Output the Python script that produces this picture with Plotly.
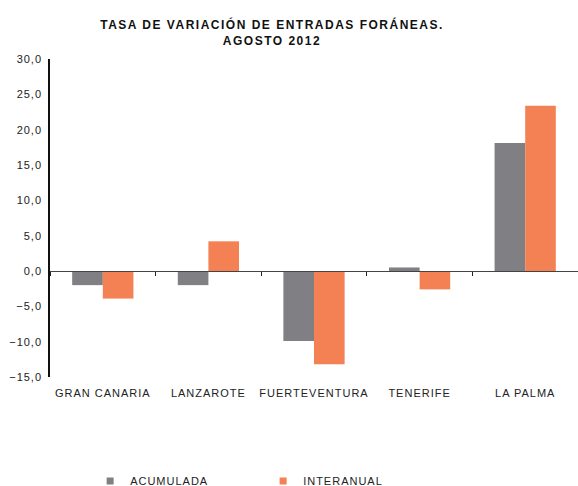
import plotly.graph_objects as go

categories = ["GRAN CANARIA", "LANZAROTE", "FUERTEVENTURA", "TENERIFE", "LA PALMA"]
acumulada = [-2.0, -2.0, -9.9, 0.5, 18.1]
interanual = [-3.9, 4.2, -13.2, -2.6, 23.4]
y_ticks = [-15, -10, -5, 0, 5, 10, 15, 20, 25, 30]
series_names = ["ACUMULADA", "INTERANUAL"]

GRAY = "#7f7f84"
ORANGE = "#f48153"
FONT = "Liberation Sans, Arial, sans-serif"

fig = go.Figure()
for name, vals, col in [(series_names[0], acumulada, GRAY), (series_names[1], interanual, ORANGE)]:
    fig.add_trace(go.Bar(name=name, x=categories, y=vals, legendgroup=name, showlegend=False,
                         marker=dict(color=col, line=dict(width=0))))
# legend entries with small square symbols
for name, col in [(series_names[0], GRAY), (series_names[1], ORANGE)]:
    fig.add_trace(go.Scatter(name=name, x=[None], y=[None], mode="markers", legendgroup=name,
                             marker=dict(symbol="square", size=7, color=col)))
# invisible trace carrying the zero-crossing category axis
fig.add_trace(go.Bar(x=categories, y=[None] * len(categories), xaxis="x2",
                     showlegend=False, hoverinfo="skip"))

fig.update_layout(
    width=578, height=486,
    margin=dict(l=50, r=0, t=59, b=109, autoexpand=False),
    paper_bgcolor="white", plot_bgcolor="white",
    separators=",.",
    barmode="group", bargap=0.42, bargroupgap=0,
    font=dict(family=FONT, size=11, color="#222"),
    title=dict(text="TASA DE VARIACIÓN DE ENTRADAS FORÁNEAS.<br>AGOSTO 2012",
               x=0.4706, xanchor="center", y=0.94, yanchor="top",
               font=dict(family=FONT, size=12, color="#111", weight="bold")),
    xaxis=dict(showline=False, ticks="", showgrid=False, zeroline=False, automargin=False,
               tickfont=dict(size=11, color="#222"), ticklabelstandoff=8),
    xaxis2=dict(overlaying="x", anchor="free", position=1 / 3, side="bottom",
                matches="x", showline=True, linecolor="#444", linewidth=1, automargin=False,
                ticks="outside", tickson="boundaries", ticklen=4, tickcolor="#222",
                showticklabels=False, showgrid=False, zeroline=False),
    yaxis=dict(range=[-15, 30], tickvals=y_ticks, tickformat=".1f", automargin=False,
               showline=True, linecolor="#111", linewidth=1.5,
               ticks="", showgrid=False, zeroline=False, ticklabelstandoff=4,
               tickfont=dict(size=11, color="#222")),
    legend=dict(orientation="h", x=0.076, xanchor="left",
                y=-0.327, yanchor="middle",
                entrywidth=128, entrywidthmode="pixels", itemwidth=30,
                font=dict(size=11, color="#222")),
)

post = """
document.body.style.margin = '0';
document.body.style.overflow = 'hidden';
document.querySelectorAll('.main-svg text').forEach(function(t){
  t.style.letterSpacing = '1px';
});
document.querySelectorAll('.main-svg .gtitle').forEach(function(t){
  t.style.letterSpacing = '1.5px';
});
"""

fig.write_html("out.html", post_script=post, config={"displayModeBar": False})
